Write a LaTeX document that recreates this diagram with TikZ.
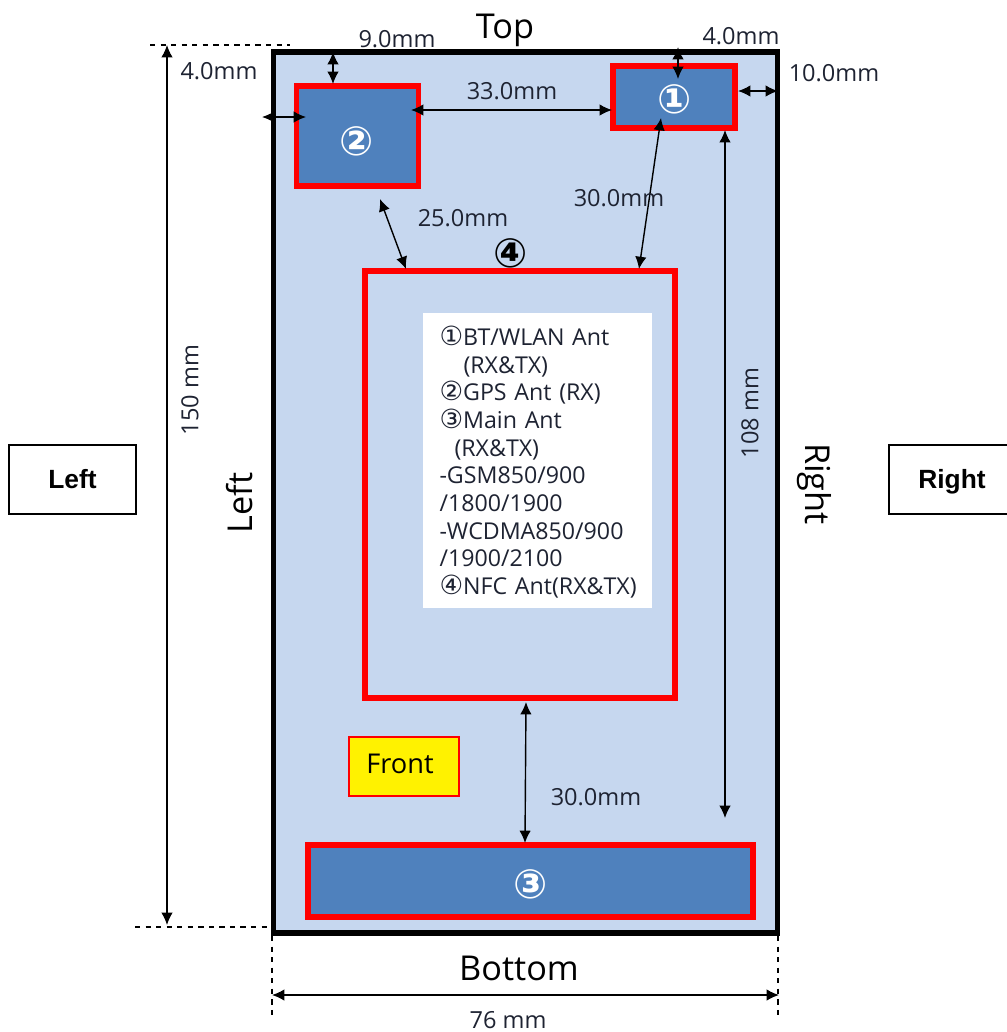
\documentclass[tikz,border=0pt]{standalone}
\usepackage{fontspec}
\setmainfont{Open Sans}
\newfontfamily\symfont{DejaVu Sans}
\newfontfamily\boxfont{Liberation Sans}
\usetikzlibrary{arrows.meta, positioning}
\definecolor{phoneblue}{RGB}{198,215,239}
\definecolor{antblue}{RGB}{79,129,189}
\definecolor{dimtext}{RGB}{30,35,50}
\tikzset{
    antbox/.style={draw=red, line width=3.1pt, fill=antblue, inner sep=0pt},
    dimline/.style={{Latex[length=7pt,width=6.5pt]}-{Latex[length=7pt,width=6.5pt]}, black, line width=0.8pt},
    guideline/.style={dashed, black, line width=0.6pt},
    dimlabel/.style={text=dimtext, font=\fontsize{13.4}{16}\selectfont, inner sep=0pt},
    sidelabel/.style={text=black, font=\fontsize{19.5}{22}\selectfont, inner sep=0pt},
    antnum/.style={text=white, font=\symfont\bfseries\fontsize{23}{26}\selectfont, inner sep=0pt},
    viewbox/.style={draw=black, line width=0.8pt, fill=white, inner sep=0pt, text height=10pt, text depth=0pt, font=\boxfont\bfseries\fontsize{15}{17}\selectfont}
}
\begin{document}
\begin{tikzpicture}[x=0.02cm, y=-0.02cm]
    \useasboundingbox (0,0) rectangle (1007,1032);

    % Phone body
    \node (phone) [draw=black, line width=3.3pt, fill=phoneblue, inner sep=0pt, minimum width=10.08cm, minimum height=17.62cm] at (525.5,492.5) {};

    % Antenna areas
    \node (antone) [antbox, minimum width=2.44cm, minimum height=1.24cm] at (674,97) {};
    \node (anttwo) [antbox, minimum width=2.43cm, minimum height=2cm] at (357.5,136) {};
    \node (antthree) [antbox, minimum width=8.9cm, minimum height=1.44cm] at (530.5,881) {};
    \node (antfour) [antbox, fill=phoneblue, minimum width=6.2cm, minimum height=8.54cm] at (520,484.5) {};
    \node (numone) [antnum] at (675,99) {①};
    \node (numtwo) [antnum] at (357,141) {②};
    \node (numthree) [antnum] at (531,884) {③};
    \node (numfour) [antnum, text=black] at (511,253) {④};

    % Legend
    \node (legendbox) [fill=white, inner sep=0pt, minimum width=4.58cm, minimum height=5.9cm] at (537.5,460.5) {};
    \node (legendtext) [inner sep=0pt, text width=4.3cm, align=left, text=dimtext, font=\fontsize{13.2}{15.75}\selectfont] at (547,462) {%
        {\symfont\fontsize{15}{15.75}\selectfont ①}BT/WLAN Ant\\
        \hspace*{0.48cm}(RX\&TX)\\
        {\symfont\fontsize{15}{15.75}\selectfont ②}GPS Ant (RX)\\
        {\symfont\fontsize{15}{15.75}\selectfont ③}Main Ant\\
        \hspace*{0.3cm}(RX\&TX)\\
        -GSM850/900\\
        /1800/1900\\
        -WCDMA850/900\\
        /1900/2100\\
        {\symfont\fontsize{15}{15.75}\selectfont ④}NFC Ant(RX\&TX)};

    % Front tag
    \node (front) [draw=red, line width=0.6pt, fill=yellow, inner sep=0pt, minimum width=2.2cm, minimum height=1.18cm] at (404,766.5) {};
    \node (fronttext) [dimlabel, text=black, font=\fontsize{15.5}{18}\selectfont] at (400,764) {Front};

    % View boxes
    \node (leftview) [viewbox, minimum width=2.54cm, minimum height=1.38cm] at (72.5,479.5) {Left};
    \node (rightview) [viewbox, minimum width=2.52cm, minimum height=1.38cm] at (952,479.5) {Right};

    % Side names
    \node (toplabel) [sidelabel] at (505,30) {Top};
    \node (bottomlabel) [sidelabel] at (519,968) {Bottom};
    \node (leftlabel) [sidelabel, rotate=90] at (240,503) {Left};
    \node (rightlabel) [sidelabel, rotate=-90] at (814,484) {Right};

    % Guide lines
    \coordinate (topa) at (150,45);
    \coordinate (topb) at (290,45);
    \coordinate (bota) at (135,927);
    \coordinate (botb) at (273,927);
    \coordinate (lefta) at (272,936);
    \coordinate (leftb) at (272,1018);
    \coordinate (righta) at (778,936);
    \coordinate (rightb) at (778,1015);
    \draw[guideline] (topa) -- (topb);
    \draw[guideline] (bota) -- (botb);
    \draw[guideline] (lefta) -- (leftb);
    \draw[guideline] (righta) -- (rightb);

    % Overall size
    \coordinate (heighta) at (167,45);
    \coordinate (heightb) at (167,925);
    \coordinate (widtha) at (272,995);
    \coordinate (widthb) at (779,995);
    \draw[dimline] (heighta) -- (heightb);
    \draw[dimline] (widtha) -- (widthb);
    \node (heightlabel) [dimlabel, rotate=90] at (190,390) {150 mm};
    \node (widthlabel) [dimlabel] at (508,1020) {76 mm};

    % Antenna 2 offsets
    \coordinate (twotop) at (333,52);
    \coordinate (twotopb) at (333,84);
    \coordinate (twolefta) at (262,117);
    \coordinate (twoleftb) at (306,117);
    \draw[dimline] (twotop) -- (twotopb);
    \draw[dimline] (twolefta) -- (twoleftb);
    \node (twotoplabel) [dimlabel] at (397,39) {9.0mm};
    \node (twoleftlabel) [dimlabel] at (219,71) {4.0mm};

    % Antenna 1 offsets
    \coordinate (onetopa) at (678,47);
    \coordinate (onetopb) at (678,79);
    \coordinate (onerighta) at (738,91);
    \coordinate (onerightb) at (778,91);
    \coordinate (twoeast) at (411,110);
    \coordinate (onewest) at (612,110);
    \draw[dimline] (onetopa) -- (onetopb);
    \draw[dimline] (onerighta) -- (onerightb);
    \draw[dimline] (twoeast) -- (onewest);
    \node (onetoplabel) [dimlabel] at (741,36) {4.0mm};
    \node (onerightlabel) [dimlabel] at (834,73) {10.0mm};
    \node (gaplabel) [dimlabel] at (512,91) {33.0mm};

    % Distances to antenna 4
    \coordinate (onein) at (661,118);
    \coordinate (fourtopb) at (639,269);
    \coordinate (twoout) at (380,199);
    \coordinate (fourtopa) at (406,269);
    \draw[dimline] (onein) -- (fourtopb);
    \draw[dimline] (twoout) -- (fourtopa);
    \node (onefourlabel) [dimlabel] at (619,198) {30.0mm};
    \node (twofourlabel) [dimlabel] at (463,218) {25.0mm};

    % Distances to antenna 3
    \coordinate (oneout) at (725,130);
    \coordinate (onedown) at (725,818);
    \coordinate (foursouth) at (526,702);
    \coordinate (threenorth) at (525,843);
    \draw[dimline] (oneout) -- (onedown);
    \draw[dimline] (foursouth) -- (threenorth);
    \node (onedownlabel) [dimlabel, rotate=90] at (750,413) {108 mm};
    \node (fourthreelabel) [dimlabel] at (596,797) {30.0mm};
\end{tikzpicture}
\end{document}
